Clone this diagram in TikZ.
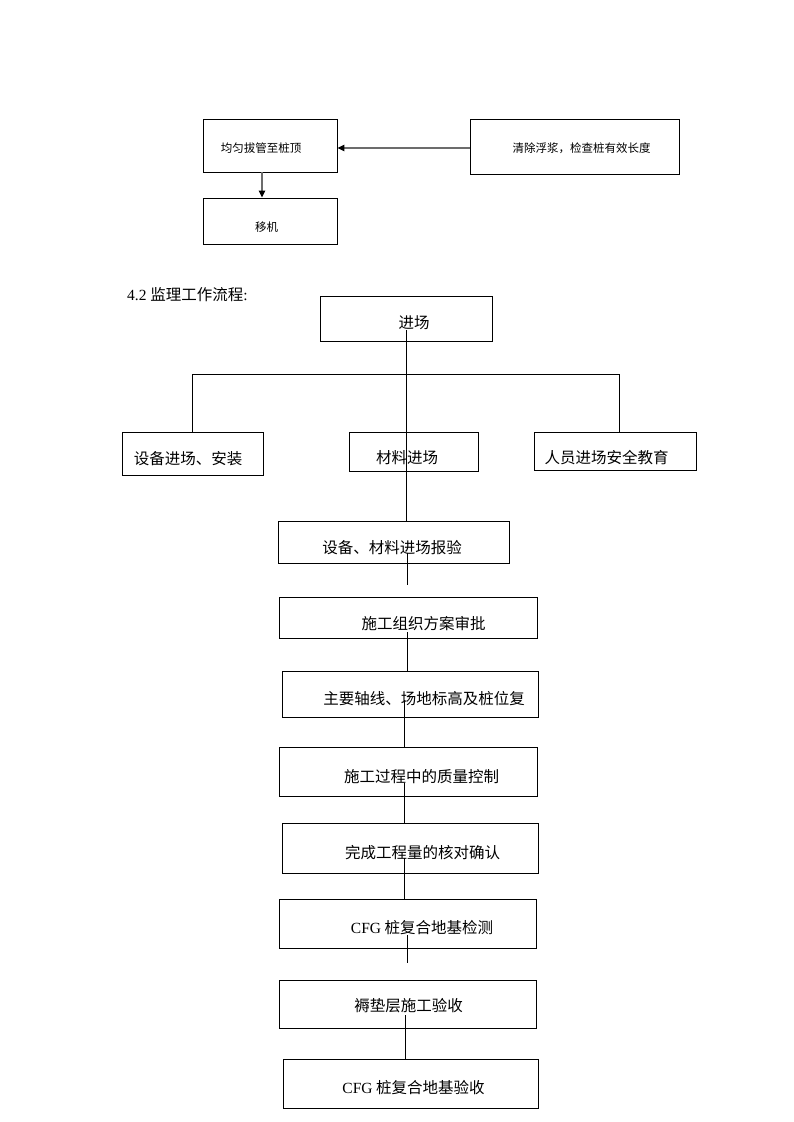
\documentclass[tikz,border=0pt]{standalone}
\usepackage{fontspec}
\setmainfont{Liberation Serif}
\newfontfamily\cjk{Noto Sans CJK SC}
\usetikzlibrary{arrows.meta}
\tikzset{
	box/.style={draw, line width=0.9pt, inner sep=0pt},
	txt/.style={inner sep=0pt, font=\cjk\fontsize{15.5}{18}\selectfont},
	small/.style={inner sep=0pt, font=\cjk\fontsize{11.5}{14}\selectfont},
	link/.style={line width=0.8pt},
	flow/.style={draw=gray!85!black, line width=1.2pt, -{Triangle[length=7pt,width=6.5pt,color=black]}}
}
\begin{document}
\begin{tikzpicture}[x=1pt,y=-1pt]
	\fill[white] (0,0) rectangle (793,1122);

	% pile construction, last steps
	\node[box, minimum width=134pt, minimum height=53pt] (pull) at (270,145.5) {};
	\node[small] (pullt) at (261,148) {均匀拔管至桩顶};
	\node[box, minimum width=209pt, minimum height=55pt] (clear) at (574.5,146.5) {};
	\node[small] (cleart) at (581.5,148) {清除浮浆，检查桩有效长度};
	\node[box, minimum width=134pt, minimum height=46pt] (move) at (270,221) {};
	\node[small] (movet) at (266.5,227) {移机};
	\coordinate (down) at (262,0);
	\draw[flow] (clear.west |- pullt) -- (pull.east |- pullt);
	\draw[flow] (pull.south -| down) -- (move.north -| down);

	\node[txt, anchor=west] (title) at (127,295) {\rmfamily 4.2 {\cjk 监理工作流程}:};

	% supervision flow
	\node[box, minimum width=172pt, minimum height=45pt] (start) at (406,318.5) {};
	\node[txt] (startt) at (414,323) {进场};
	\node[box, minimum width=141pt, minimum height=43pt] (equip) at (192.5,453.5) {};
	\node[txt] (equipt) at (188,459) {设备进场、安装};
	\node[box, minimum width=129pt, minimum height=39pt] (material) at (413.5,451.5) {};
	\node[txt] (materialt) at (407,458) {材料进场};
	\node[box, minimum width=162pt, minimum height=38pt] (staff) at (615,451) {};
	\node[txt] (stafft) at (606.5,458) {人员进场安全教育};

	\node[box, minimum width=231pt, minimum height=42pt] (inspect) at (393.5,542) {};
	\node[txt] (inspectt) at (392,548) {设备、材料进场报验};
	\node[box, minimum width=258pt, minimum height=41pt] (plan) at (408,617.5) {};
	\node[txt] (plant) at (423.5,624) {施工组织方案审批};
	\node[box, minimum width=256pt, minimum height=46pt] (layout) at (410,694) {};
	\node[txt] (layoutt) at (424,699) {主要轴线、场地标高及桩位复};
	\node[box, minimum width=258pt, minimum height=49pt] (control) at (408,771.5) {};
	\node[txt] (controlt) at (421.5,777) {施工过程中的质量控制};
	\node[box, minimum width=256pt, minimum height=50pt] (confirm) at (410,848) {};
	\node[txt] (confirmt) at (422.5,853) {完成工程量的核对确认};
	\node[box, minimum width=257pt, minimum height=49pt] (test) at (407.5,923.5) {};
	\node[txt] (testt) at (422,928) {{\rmfamily CFG} 桩复合地基检测};
	\node[box, minimum width=257pt, minimum height=48pt] (cushion) at (407.5,1004) {};
	\node[txt] (cushiont) at (408.5,1006) {褥垫层施工验收};
	\node[box, minimum width=255pt, minimum height=49pt] (accept) at (410.5,1083.5) {};
	\node[txt] (acceptt) at (413.5,1088) {{\rmfamily CFG} 桩复合地基验收};

	% connectors
	\coordinate (a0) at (406,330);
	\coordinate (fl) at (192,374);
	\coordinate (fr) at (619,374);
	\draw[link] (a0) -- (a0 |- inspect.north);
	\draw[link] (fl |- equip.north) -- (fl) -- (fr) -- (fr |- staff.north);
	\coordinate (a1) at (407,553);
	\coordinate (e1) at (407,585);
	\draw[link] (a1) -- (e1);
	\coordinate (a2) at (407,632);
	\draw[link] (a2) -- (a2 |- layout.north);
	\coordinate (a3) at (404,700);
	\draw[link] (a3) -- (a3 |- control.north);
	\coordinate (a4) at (404,783);
	\draw[link] (a4) -- (a4 |- confirm.north);
	\coordinate (a5) at (404,858);
	\draw[link] (a5) -- (a5 |- test.north);
	\coordinate (a6) at (407,935);
	\coordinate (e6) at (407,963);
	\draw[link] (a6) -- (e6);
	\coordinate (a7) at (405,1015);
	\draw[link] (a7) -- (a7 |- accept.north);
\end{tikzpicture}
\end{document}
